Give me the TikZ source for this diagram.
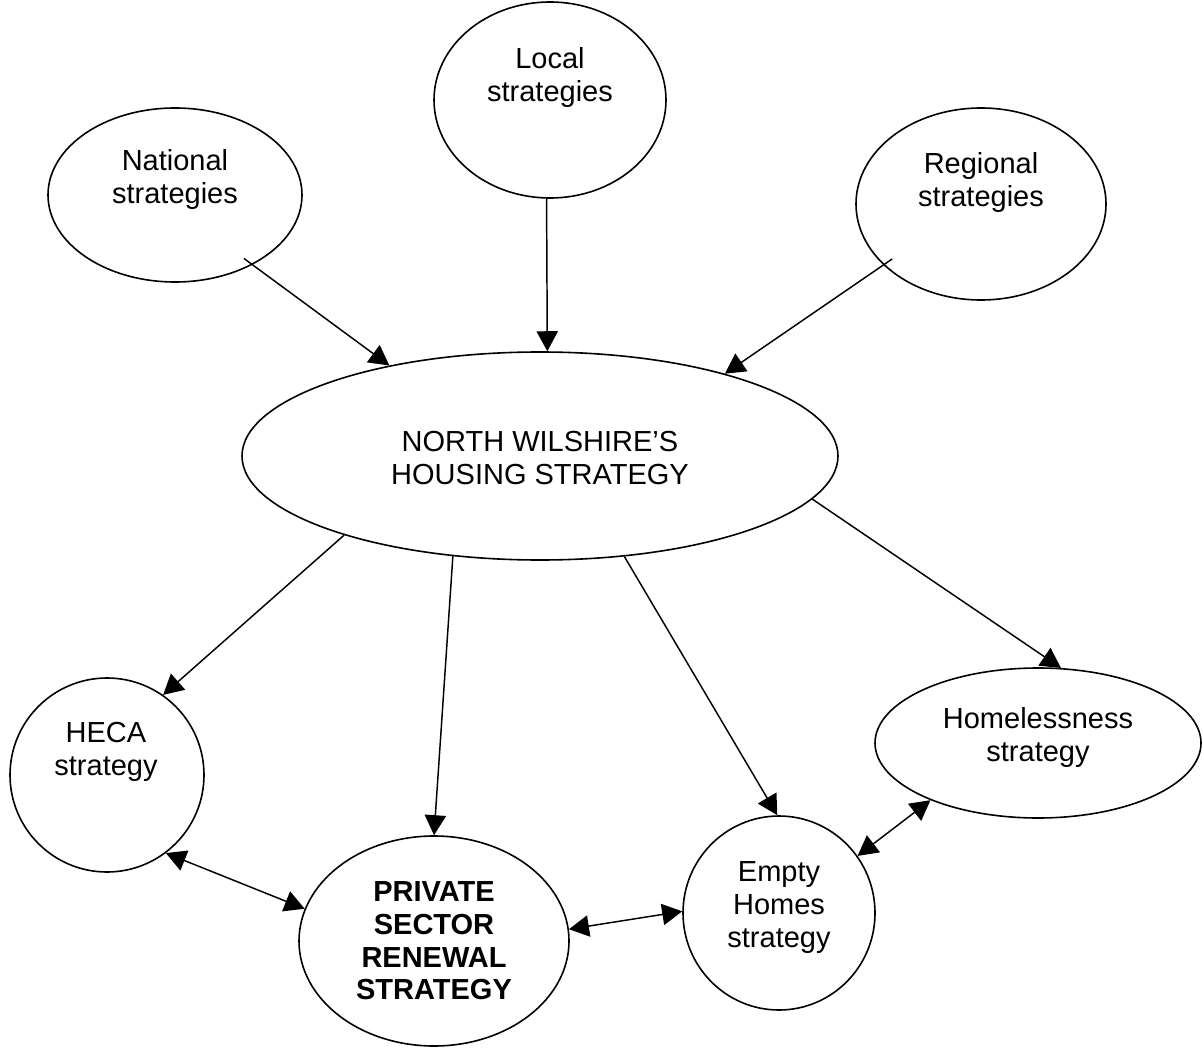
\documentclass[tikz,border=0pt]{standalone}
\usepackage{fontspec}
\setmainfont{Liberation Sans}
\usepackage{tikz}
\usetikzlibrary{shapes.geometric, arrows.meta}

\begin{document}
\begin{tikzpicture}[
    x=0.75pt, y=-0.75pt,
    bubble/.style={draw, ellipse, line width=1.2pt, inner sep=0pt},
    txt/.style={align=center, font=\fontsize{21.75}{24.75}\selectfont},
    arr/.style={line width=1.1pt, -{Triangle[length=15pt, width=16pt]}},
    twoway/.style={line width=1.1pt, {Triangle[length=15pt, width=16pt]}-{Triangle[length=15pt, width=16pt]}}
]
    \useasboundingbox (0,0) rectangle (1202,1048);

    % Strategies feeding in
    \node[bubble, minimum width=174pt, minimum height=147pt] (local) at (550,100) {};
    \node[txt] (localtxt) at (550,78) {Local\\strategies};
    \node[bubble, minimum width=190.5pt, minimum height=130.5pt] (nat) at (175,195) {};
    \node[txt] (nattxt) at (175,180) {National\\strategies};
    \node[bubble, minimum width=187.5pt, minimum height=144pt] (reg) at (981,204) {};
    \node[txt] (regtxt) at (981,183) {Regional\\strategies};

    % Housing strategy
    \node[bubble, minimum width=447pt, minimum height=156pt] (main) at (540,456) {};
    \node[txt] (maintxt) at (540,458) {NORTH WILSHIRE’S\\HOUSING STRATEGY};

    % Strategies fed from it
    \node[bubble, minimum width=145.5pt, minimum height=145.5pt] (heca) at (107,775) {};
    \node[txt] (hecatxt) at (106,752) {HECA\\strategy};
    \node[bubble, minimum width=202.5pt, minimum height=157.5pt] (psr) at (434,941) {};
    \node[txt, font=\fontsize{21.75}{24.5}\selectfont\bfseries] (psrtxt) at (434,941) {PRIVATE\\SECTOR\\RENEWAL\\STRATEGY};
    \node[bubble, minimum width=144pt, minimum height=145.5pt] (empty) at (779,913) {};
    \node[txt] (emptytxt) at (779,908) {Empty\\Homes\\strategy};
    \node[bubble, minimum width=244.5pt, minimum height=112.5pt] (home) at (1038,743) {};
    \node[txt] (hometxt) at (1038,737) {Homelessness\\strategy};

    % Links
    \draw[arr, shorten <=-8pt] (nat.-42.5) -- (main.149);
    \draw[arr] (local.-92) -- (main.86);
    \draw[arr, shorten <=-8pt] (reg.212.7) -- (main.24.5);
    \draw[arr] (main.202) -- (heca.55);
    \draw[arr] (main.229) -- (psr.90);
    \draw[arr] (main.-50) -- (empty.91);
    \draw[arr] (main.-9.5) -- (home.73);
    \draw[twoway] (heca.-53) -- (psr.166);
    \draw[twoway] (psr.5) -- (empty.179);
    \draw[twoway] (empty.36) -- (home.208);
\end{tikzpicture}
\end{document}
